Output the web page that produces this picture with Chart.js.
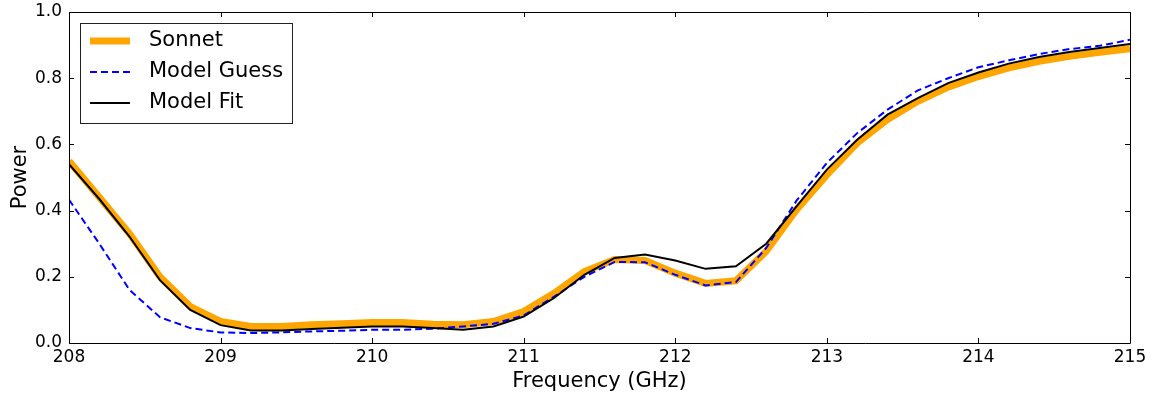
<!DOCTYPE html>
<html>
<head>
<meta charset="utf-8">
<script src="https://cdn.jsdelivr.net/npm/chart.js@4/dist/chart.umd.min.js"></script>
<style>
html,body{margin:0;padding:0;background:#fff;}
canvas{display:block;}
</style>
</head>
<body>
<canvas id="c" width="1151" height="398"></canvas>
<script>
const freq = [208.0,208.2,208.4,208.6,208.8,209.0,209.2,209.4,209.6,209.8,
              210.0,210.2,210.4,210.6,210.8,211.0,211.2,211.4,211.6,211.8,
              212.0,212.2,212.4,212.6,212.8,213.0,213.2,213.4,213.6,213.8,
              214.0,214.2,214.4,214.6,214.8,215.0];
const sonnet = [0.55,0.44,0.33,0.20,0.11,0.065,0.05,0.05,0.055,0.058,
                0.062,0.062,0.057,0.055,0.065,0.095,0.15,0.216,0.252,0.249,
                0.211,0.18,0.188,0.277,0.403,0.508,0.604,0.675,0.73,0.773,
                0.805,0.831,0.851,0.866,0.878,0.889];
const modelGuess = [0.433,0.30,0.16,0.078,0.045,0.032,0.03,0.032,0.035,0.037,
                    0.04,0.04,0.043,0.05,0.058,0.083,0.14,0.20,0.245,0.244,
                    0.206,0.174,0.184,0.287,0.43,0.544,0.634,0.705,0.763,0.80,
                    0.833,0.854,0.873,0.888,0.898,0.916];
const modelFit = [0.54,0.435,0.321,0.19,0.10,0.054,0.038,0.038,0.042,0.046,
                  0.05,0.05,0.045,0.04,0.05,0.08,0.136,0.206,0.257,0.267,
                  0.249,0.224,0.232,0.30,0.413,0.524,0.614,0.69,0.74,0.785,
                  0.817,0.844,0.864,0.879,0.891,0.903];
const xTicks = [208,209,210,211,212,213,214,215];
const yTicks = [0.0,0.2,0.4,0.6,0.8,1.0];
const seriesLabels = ['Sonnet','Model Guess','Model Fit'];

const FONT = 'DejaVu Sans';
const pts = arr => arr.map((v,i)=>({x:freq[i], y:v}));

const frameTicks = {
  id:'frameTicks',
  afterDatasetsDraw(chart){
    const {ctx, chartArea:a, scales:{x,y}} = chart;
    ctx.save();
    ctx.strokeStyle = '#000';
    ctx.lineWidth = 1;
    ctx.beginPath();
    ctx.rect(Math.round(a.left)+0.5, Math.round(a.top)+0.5, Math.round(a.right-a.left), Math.round(a.bottom-a.top));
    ctx.stroke();
    const L = 5;
    ctx.beginPath();
    xTicks.forEach(t=>{
      const px = Math.round(x.getPixelForValue(t))+0.5;
      ctx.moveTo(px, a.bottom); ctx.lineTo(px, a.bottom-L);
      ctx.moveTo(px, a.top); ctx.lineTo(px, a.top+L);
    });
    yTicks.forEach(t=>{
      const py = Math.round(y.getPixelForValue(t))+0.5;
      ctx.moveTo(a.left, py); ctx.lineTo(a.left+L, py);
      ctx.moveTo(a.right, py); ctx.lineTo(a.right-L, py);
    });
    ctx.stroke();

    // legend
    const bx = 80.5, by = 23.5, bw = 212, bh = 100;
    ctx.fillStyle = '#fff';
    ctx.fillRect(bx, by, bw, bh);
    ctx.strokeStyle = '#222';
    ctx.strokeRect(bx, by, bw, bh);
    const rows = [41, 72, 103];
    chart.data.datasets.forEach((ds,i)=>{
      const yy = rows[i];
      ctx.save();
      ctx.strokeStyle = ds.borderColor;
      ctx.lineWidth = ds.borderWidth;
      ctx.setLineDash(ds.borderDash || []);
      ctx.lineCap = 'butt';
      ctx.beginPath();
      ctx.moveTo(90, yy); ctx.lineTo(130, yy);
      ctx.stroke();
      ctx.restore();
      ctx.fillStyle = '#000';
      ctx.font = '21px "' + FONT + '"';
      ctx.textBaseline = 'middle';
      ctx.textAlign = 'left';
      ctx.fillText(ds.label, 149, yy);
    });
    ctx.restore();
  }
};

new Chart(document.getElementById('c'), {
  type:'line',
  data:{
    datasets:[
      {label:seriesLabels[0], data:pts(sonnet), borderColor:'#FFA500', borderWidth:7, pointRadius:0, tension:0, fill:false, clip:0, order:2},
      {label:seriesLabels[1], data:pts(modelGuess), borderColor:'#0000FF', borderWidth:2, borderDash:[7,4], pointRadius:0, tension:0, fill:false, clip:0, order:1},
      {label:seriesLabels[2], data:pts(modelFit), borderColor:'#000000', borderWidth:2, pointRadius:0, tension:0, fill:false, clip:0, order:0}
    ]
  },
  options:{
    responsive:false,
    animation:false,
    devicePixelRatio:1,
    layout:{padding:{left:0,right:21,top:12,bottom:0}},
    plugins:{legend:{display:false}, tooltip:{enabled:false}},
    scales:{
      x:{
        type:'linear', min:208, max:215,
        afterBuildTicks: s => { s.ticks = xTicks.map(v=>({value:v})); },
        afterFit: s => { s.height = 55; s.paddingLeft = 0; s.paddingRight = 0; },
        ticks:{color:'#000', font:{family:FONT, size:17}, padding:4, maxRotation:0, autoSkip:false,
               callback: v => String(v)},
        grid:{display:false, drawTicks:false},
        border:{display:false},
        title:{display:true, text:'Frequency (GHz)', color:'#000', font:{family:FONT, size:21}, padding:{top:0,bottom:4}}
      },
      y:{
        min:0, max:1,
        afterBuildTicks: s => { s.ticks = yTicks.map(v=>({value:v})); },
        afterFit: s => { s.width = 69; s.paddingTop = 0; s.paddingBottom = 0; },
        ticks:{color:'#000', font:{family:FONT, size:17}, padding:7, autoSkip:false,
               callback: v => Number(v).toFixed(1)},
        grid:{display:false, drawTicks:false},
        border:{display:false},
        title:{display:true, text:'Power', color:'#000', font:{family:FONT, size:21}, padding:{top:8,bottom:0}}
      }
    }
  },
  plugins:[frameTicks]
});
</script>
</body>
</html>
